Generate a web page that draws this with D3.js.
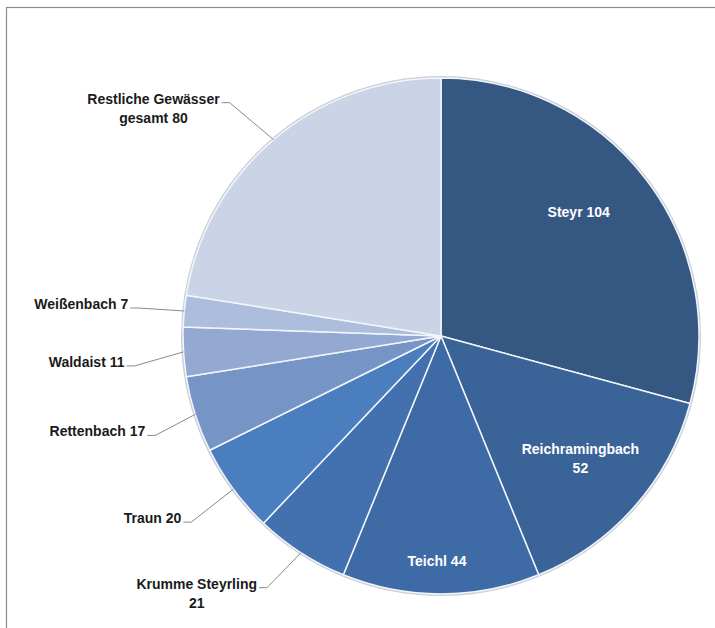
<!DOCTYPE html>
<meta charset="utf-8">
<style>
  body {
    margin: 0;
    background: #fff;
  }

  .label {
    font-family: "Liberation Sans", Arial, sans-serif;
    font-weight: bold;
    font-size: 14px;
  }
</style>

<body>
  <div id="pie_chart"></div>

  <script src="https://d3js.org/d3.v7.min.js"></script>
  <script>
    // data
    var categories = ["Steyr", "Reichramingbach", "Teichl", "Krumme Steyrling", "Traun",
      "Rettenbach", "Waldaist", "Weißenbach", "Restliche Gewässer gesamt"];
    var values = [104, 52, 44, 21, 20, 17, 11, 7, 80];

    var sliceColors = ["#355883", "#3a6398", "#3e6ba6", "#4371af", "#4a7ebf",
      "#7694c5", "#93a9d2", "#adbedd", "#cad4e6"];

    var width = 715,
      height = 628,
      cx = 441,
      cy = 336,
      radius = 258;

    // label layout: inside labels shift from centroid, outside labels give the
    // end of the leader line relative to the point on the rim
    var insideShift = {
      "Steyr": [-10, -11],
      "Reichramingbach": [0, -1],
      "Teichl": [-4, 39]
    };
    var outsideShift = {
      "Krumme Steyrling": [-42, 35],
      "Traun": [-50, 33],
      "Rettenbach": [-48, 21],
      "Waldaist": [-57, 14],
      "Weißenbach": [-54, -3],
      "Restliche Gewässer gesamt": [-52, -37]
    };
    var wrapWidth = 135,
      lineHeight = 19;

    var data = categories.map(function(c, i) {
      return { name: c, value: values[i] };
    });

    var color = d3.scaleOrdinal()
      .domain(categories)
      .range(sliceColors);

    var pie = d3.pie()
      .sort(null)
      .value(function(d) { return d.value; });

    var arc = d3.arc()
      .innerRadius(0)
      .outerRadius(radius);

    var labelArc = d3.arc()
      .innerRadius(186)
      .outerRadius(186);

    var rimArc = d3.arc()
      .innerRadius(radius)
      .outerRadius(radius);

    var svg = d3.select("#pie_chart")
      .append("svg")
      .attr("width", width)
      .attr("height", height);

    // chart frame, cut by the page edge
    svg.append("rect")
      .attr("x", 6.5)
      .attr("y", 7.5)
      .attr("width", 720)
      .attr("height", 640)
      .attr("fill", "none")
      .attr("stroke", "#8c8c8c")
      .attr("stroke-width", 1.2);

    var g = svg.append("g")
      .attr("transform", "translate(" + cx + "," + cy + ")");

    // soft rim
    g.append("circle")
      .attr("r", radius + 1)
      .attr("fill", "none")
      .attr("stroke", "#c9ced8")
      .attr("stroke-width", 2);

    var arcs = pie(data);

    g.selectAll(".slice")
      .data(arcs)
      .enter()
      .append("path")
      .attr("class", "slice")
      .attr("d", arc)
      .attr("fill", function(d) { return color(d.data.name); })
      .attr("stroke", "#f2f5fa")
      .attr("stroke-width", 1.5)
      .attr("stroke-linejoin", "round");

    // split a label into lines no wider than wrapWidth
    var measure = svg.append("text").attr("class", "label");
    function wrap(str) {
      var words = str.split(" "),
        lines = [],
        line = words[0];
      for (var i = 1; i < words.length; i++) {
        measure.text(line + " " + words[i]);
        if (measure.node().getComputedTextLength() > wrapWidth) {
          lines.push(line);
          line = words[i];
        } else {
          line = line + " " + words[i];
        }
      }
      lines.push(line);
      return lines;
    }
    function textWidth(str) {
      measure.text(str);
      return measure.node().getComputedTextLength();
    }

    // inside labels
    arcs.filter(function(d) { return insideShift[d.data.name]; })
      .forEach(function(d) {
        var lines = wrap(d.data.name + " " + d.data.value),
          c = labelArc.centroid(d),
          s = insideShift[d.data.name],
          x = c[0] + s[0],
          y0 = c[1] + s[1] - (lines.length - 1) * lineHeight / 2 + 5;
        g.append("text")
          .attr("class", "label")
          .attr("fill", "#fff")
          .attr("text-anchor", "middle")
          .selectAll("tspan")
          .data(lines)
          .enter()
          .append("tspan")
          .attr("x", x)
          .attr("y", function(l, i) { return y0 + i * lineHeight; })
          .text(function(l) { return l; });
      });

    // outside labels with leader lines
    arcs.filter(function(d) { return outsideShift[d.data.name]; })
      .forEach(function(d) {
        var lines = wrap(d.data.name + " " + d.data.value),
          p = rimArc.centroid(d),
          s = outsideShift[d.data.name],
          ex = p[0] + s[0],
          ey = p[1] + s[1],
          w1 = textWidth(lines[0]),
          mid = ex - 2 - w1 / 2;

        g.append("polyline")
          .attr("points", [[ex, ey], [ex + 8, ey], p].join(" "))
          .attr("fill", "none")
          .attr("stroke", "#8a8a8a")
          .attr("stroke-width", 1);

        g.append("text")
          .attr("class", "label")
          .attr("fill", "#1a1a1a")
          .attr("text-anchor", "middle")
          .selectAll("tspan")
          .data(lines)
          .enter()
          .append("tspan")
          .attr("x", mid)
          .attr("y", function(l, i) { return ey + 1 + i * lineHeight; })
          .text(function(l) { return l; });
      });

    measure.remove();
  </script>
</body>
